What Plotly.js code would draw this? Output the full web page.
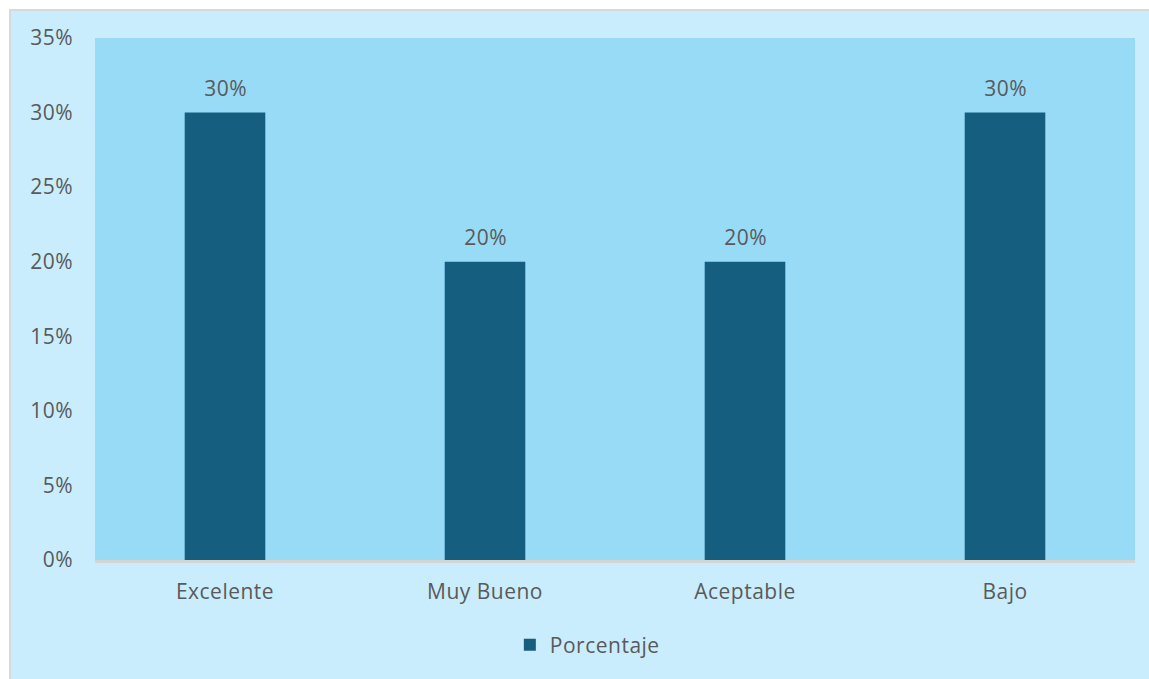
<!DOCTYPE html>
<html>
<head>
<meta charset="utf-8">
<script src="https://cdn.plot.ly/plotly-3.0.1.min.js"></script>
<style>
html, body { margin: 0; padding: 0; background: #ffffff; width: 1149px; height: 679px; overflow: hidden; }
#frame { position: absolute; left: 9px; top: 9px; width: 1140px; height: 670px; background: #C9EDFC; border-top: 2px solid #D9D9D9; border-left: 2px solid #D9D9D9; box-sizing: border-box; }
#chart { position: absolute; left: 0; top: 0; width: 1149px; height: 679px; }
#chart svg text { letter-spacing: 0.5px; }
</style>
</head>
<body>
<div id="frame"></div>
<div id="chart"></div>
<script>
const categories = ["Excelente", "Muy Bueno", "Aceptable", "Bajo"];
const values = [0.30, 0.20, 0.20, 0.30];
const seriesName = "Porcentaje";
const yTicks = [0, 0.05, 0.10, 0.15, 0.20, 0.25, 0.30, 0.35];
const yTickLabels = ["0%", "5%", "10%", "15%", "20%", "25%", "30%", "35%"];

const fontFam = "'Open Sans', 'Noto Sans', 'DejaVu Sans', sans-serif";
const textColor = "#5A5A5A";
const fs = 21;

const trace = {
  type: "bar",
  x: categories,
  y: values,
  name: seriesName,
  marker: { color: "#165E80" },
  showlegend: true,
  hoverinfo: "none"
};

const annotations = categories.map((c, i) => ({
  x: c, y: values[i], xref: "x", yref: "y",
  text: Math.round(values[i] * 100) + "%",
  showarrow: false, yanchor: "bottom", yshift: 9,
  font: { family: fontFam, size: fs, color: textColor }
}));

const layout = {
  width: 1149, height: 679,
  paper_bgcolor: "rgba(0,0,0,0)",
  plot_bgcolor: "#97DBF7",
  margin: { l: 95, r: 14, t: 38, b: 119 },
  bargap: 0.69,
  font: { family: fontFam, size: fs, color: textColor },
  xaxis: {
    showgrid: false, zeroline: false,
    showline: true, linecolor: "#D4D4D4", linewidth: 3,
    ticks: "", ticklabelstandoff: 11,
    tickfont: { family: fontFam, size: fs, color: textColor },
    fixedrange: true
  },
  yaxis: {
    range: [0, 0.35], showgrid: false, zeroline: false, showline: false,
    tickvals: yTicks, ticktext: yTickLabels, ticks: "",
    ticklabelstandoff: 21,
    tickfont: { family: fontFam, size: fs, color: textColor },
    fixedrange: true
  },
  showlegend: true,
  legend: {
    orientation: "h", x: 0.471, xanchor: "center", y: -0.163, yanchor: "middle",
    itemwidth: 30,
    font: { family: fontFam, size: fs, color: textColor },
    bgcolor: "rgba(0,0,0,0)"
  },
  annotations: annotations
};

Plotly.newPlot("chart", [trace], layout, { displayModeBar: false, staticPlot: true });
</script>
</body>
</html>
